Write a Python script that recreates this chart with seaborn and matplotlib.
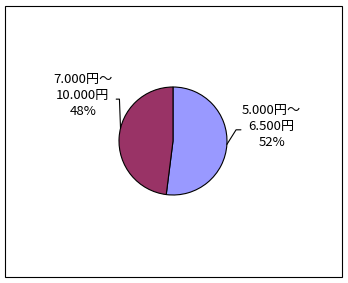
import numpy as np
import matplotlib
matplotlib.use("Agg")
import matplotlib.pyplot as plt
from matplotlib.patches import Rectangle
import seaborn as sns

categories = ["5.000円～\n6.500円", "7.000円～\n10.000円"]
values = [52, 48]
colors = ["#9999FF", "#993366"]

sns.set_theme(style="white")
plt.rcParams['font.family'] = ['Noto Sans CJK JP', 'DejaVu Sans']
plt.rcParams['text.color'] = 'black'

W, H = 348, 283
fig = plt.figure(figsize=(W / 100, H / 100), dpi=100)
ax = fig.add_axes([0, 0, 1, 1])
R = 54.0
cx, cy = 173, 283 - 141

wedges, _ = ax.pie(values, colors=colors, startangle=90, counterclock=False,
                   wedgeprops=dict(edgecolor="black", linewidth=0.8))
ax.set_aspect('auto')
ax.set_xlim(-cx / R, (W - cx) / R)
ax.set_ylim(-cy / R, (H - cy) / R)
ax.axis('off')

fs = 9.5
ls = 1.3
# right label (first category)
ang = np.deg2rad(90 - values[0] / sum(values) * 360 / 2)
x0, y0 = np.cos(ang), np.sin(ang)
ax.plot([x0, x0 + 0.17, x0 + 0.26], [y0, y0 + 0.27, y0 + 0.27], color="black", lw=0.8)
ax.text(x0 + 0.83, y0 + 0.34, f"{categories[0]}\n{values[0]}%", ha="center", va="center",
        fontsize=fs, linespacing=ls, color="black")

# left label (second category)
ang2 = np.deg2rad(90 - (values[0] + values[1] / 2) / sum(values) * 360 - 10)
x1, y1 = np.cos(ang2), np.sin(ang2)
ax.plot([x1, x1 - 0.02, x1 - 0.08], [y1, y1 + 0.54, y1 + 0.54], color="black", lw=0.8)
ax.text(x1 - 0.70, y1 + 0.61, f"{categories[1]}\n{values[1]}%", ha="center", va="center",
        fontsize=fs, linespacing=ls, color="black")

fig.patches.append(Rectangle((5 / W, 6 / H), 337 / W, 271 / H, transform=fig.transFigure,
                             fill=False, edgecolor="black", linewidth=0.8))
fig.savefig("out.png", dpi=100, facecolor="white")
